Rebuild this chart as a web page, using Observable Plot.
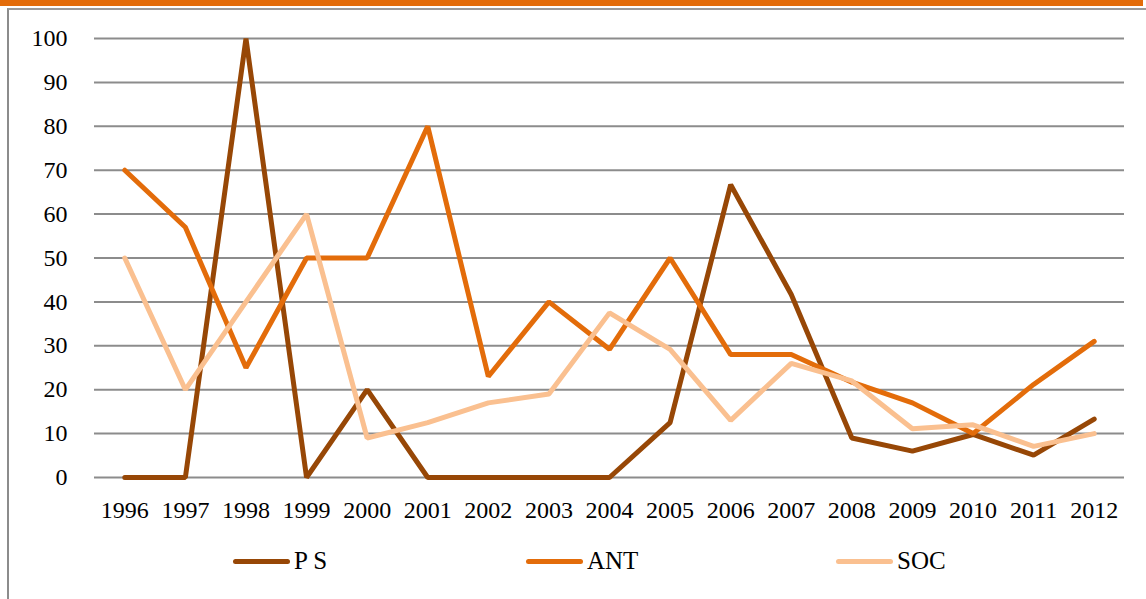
<!DOCTYPE html>
<html>
<head>
<meta charset="utf-8">
<script src="https://cdn.jsdelivr.net/npm/d3@7"></script>
<script src="https://cdn.jsdelivr.net/npm/@observablehq/plot@0.6"></script>
<style>
  html, body { margin: 0; padding: 0; background: #fff; width: 1146px; height: 599px; overflow: hidden; }
  #topbar { position: absolute; left: 0; top: 0; width: 1143px; height: 6px; background: #E36C0A; }
  #frame { position: absolute; left: 7px; top: 8px; width: 1150px; height: 600px; border-left: 2px solid #8c8c8c; border-top: 2px solid #9a9a9a; }
  #chart { position: absolute; left: 0; top: 0; }
  #legend { position: absolute; top: 546px; left: 0; width: 1146px; height: 30px; font-family: "Liberation Serif", serif; font-size: 25px; color: #000; }
  .item { position: absolute; top: 0; display: flex; align-items: center; height: 30px; }
  .swatch { display: inline-block; width: 57px; height: 5px; border-radius: 3px; margin-right: 4px; }
</style>
</head>
<body>
<div id="topbar"></div>
<div id="frame"></div>
<div id="chart"></div>
<div id="legend"></div>
<script>
const years = ["1996","1997","1998","1999","2000","2001","2002","2003","2004","2005","2006","2007","2008","2009","2010","2011","2012"];
const seriesNames = ["P S", "ANT", "SOC"];
const psValues  = [0, 0, 100, 0, 20, 0, 0, 0, 0, 12.5, 66.7, 41.7, 9, 6, 9.8, 5.1, 13.3];
const antValues = [70, 57, 25, 50, 50, 80, 23, 40, 29.2, 50, 28, 28, 21.7, 17, 10, 21.2, 31];
const socValues = [50, 20, 40, 60, 9, 12.5, 17, 19, 37.5, 29.2, 13, 26, 22, 11.1, 12, 7.1, 10];
const colors = ["#974706", "#E36C0A", "#FAC090"];
const yTicks = [0, 10, 20, 30, 40, 50, 60, 70, 80, 90, 100];
const legendX = [233, 526, 836];

const allValues = [psValues, antValues, socValues];
const data = [];
seriesNames.forEach((s, i) => {
  years.forEach((yr, j) => data.push({series: s, year: yr, value: allValues[i][j]}));
});

const chart = Plot.plot({
  width: 1146,
  height: 540,
  marginTop: 38,
  marginBottom: 63,
  marginLeft: 94,
  marginRight: 22,
  style: { fontFamily: "'Liberation Serif', serif", fontSize: "24px", color: "#000", background: "transparent", overflow: "visible" },
  x: { type: "point", domain: years, padding: 0.5, round: false, label: null },
  y: { domain: [0, 100], ticks: yTicks, label: null },
  color: { domain: seriesNames, range: colors },
  marks: [
    Plot.ruleY(yTicks, { stroke: "#8c8c8c", strokeWidth: 2, strokeOpacity: 1 }),
    Plot.axisY({ ticks: yTicks, tickSize: 0, tickPadding: 27, label: null, fontSize: 24 }),
    Plot.axisX({ tickSize: 0, tickPadding: 23, label: null, fontSize: 24 }),
    Plot.line(data, { x: "year", y: "value", z: "series", stroke: "series", strokeWidth: 5, strokeLinejoin: "miter", strokeLinecap: "round" })
  ]
});
document.getElementById("chart").appendChild(chart);

const legend = document.getElementById("legend");
seriesNames.forEach((s, i) => {
  const item = document.createElement("div");
  item.className = "item";
  item.style.left = legendX[i] + "px";
  const sw = document.createElement("span");
  sw.className = "swatch";
  sw.style.background = colors[i];
  const tx = document.createElement("span");
  tx.textContent = s;
  item.appendChild(sw);
  item.appendChild(tx);
  legend.appendChild(item);
});
</script>
</body>
</html>
